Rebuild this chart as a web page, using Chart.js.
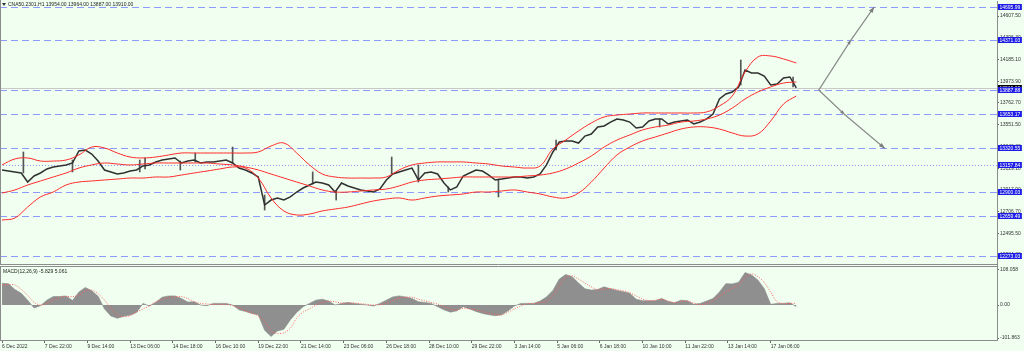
<!DOCTYPE html>
<html>
<head>
<meta charset="utf-8">
<script src="https://cdn.jsdelivr.net/npm/chart.js@4.4.1/dist/chart.umd.min.js"></script>
<style>
  html, body { margin: 0; padding: 0; background: #f0fff0; }
  #wrap { position: relative; width: 1024px; height: 351px; overflow: hidden; background: #f0fff0; }
  #mainChart { position: absolute; left: 0; top: 0; }
  #macdChart { position: absolute; left: 0; top: 266px; }
</style>
</head>
<body>
<div id="wrap">
  <canvas id="mainChart" width="1024" height="266"></canvas>
  <canvas id="macdChart" width="1024" height="85"></canvas>
</div>
<script>
// hourly bars, x = bar number counted from 6 Dec 2022 00:00
const barStep = 6;   // closes and MACD are read every 6 bars
const bandStep = 12; // bollinger bands are read every 12 bars

const closes = [
  13111, 13101, 13092, 13082, 12994, 13053, 13082, 13121, 13140, 13150,
  13160, 13179, 13296, 13305, 13266, 13198, 13111, 13092, 13072, 13082,
  13101, 13111, 13150, 13160, 13189, 13208, 13218, 13228, 13179, 13198,
  13208, 13179, 13189, 13189, 13198, 13208, 13179, 13130, 13111, 13082,
  13043, 12771, 12819, 12839, 12819, 12849, 12897, 12936, 12965, 12994,
  12985, 12965, 12897, 12985, 12956, 12936, 12917, 12907, 12897, 12926,
  13014, 13072, 13092, 13111, 13130, 13014, 13082, 13092, 13072, 12985,
  12917, 12946, 13053, 13082, 13111, 13101, 13062, 13014, 13023, 13033,
  13043, 13043, 13033, 13043, 13072, 13160, 13286, 13383, 13393, 13393,
  13373, 13441, 13461, 13529, 13539, 13577, 13607, 13597, 13577, 13519,
  13529, 13587, 13607, 13607, 13558, 13577, 13587, 13597, 13558, 13577,
  13607, 13655, 13801, 13850, 13869, 13918, 14083, 14054, 14054, 14024,
  13937, 13947, 14005, 14015, 13910
];

// long candle wicks
const wickBars  = [20, 66, 129, 134, 167, 181, 216, 246, 291, 313, 365, 390, 418, 465, 519, 616, 692, 741];
const wickHighs = [13286, 13208, 13208, 13228, 13198, 13276, 13334, 12868, 13092, 12907, 13237, 13160, 12946, 13023, 13402, 13607, 14180, 14015];
const wickLows  = [13082, 13092, 13092, 13121, 13111, 13189, 13179, 12722, 12975, 12819, 13072, 12994, 12897, 12849, 13305, 13529, 13937, 13918];

const upperBand = [
  13160, 13218, 13228, 13198, 13198, 13208, 13257, 13334, 13325, 13276,
  13237, 13228, 13237, 13257, 13276, 13276, 13276, 13276, 13276, 13276,
  13286, 13344, 13373, 13276, 13160, 13072, 13043, 13033, 13033, 13033,
  13043, 13111, 13160, 13179, 13189, 13189, 13189, 13179, 13169, 13150,
  13140, 13130, 13150, 13315, 13402, 13490, 13568, 13626, 13645, 13655,
  13665, 13665, 13665, 13665, 13665, 13675, 13733, 13830, 14063, 14209,
  14219, 14190, 14151
];
const middleBand = [
  12887, 12917, 12965, 13004, 13043, 13082, 13130, 13160, 13179, 13169,
  13160, 13169, 13179, 13179, 13179, 13179, 13179, 13169, 13160, 13140,
  13111, 13072, 13033, 12994, 12956, 12917, 12897, 12897, 12907, 12917,
  12926, 12956, 12994, 13014, 13023, 13033, 13043, 13043, 13043, 13043,
  13043, 13053, 13062, 13082, 13121, 13179, 13247, 13334, 13402, 13451,
  13500, 13529, 13548, 13577, 13587, 13607, 13645, 13713, 13801, 13869,
  13918, 13956, 13966
];
const lowerBand = [
  12625, 12644, 12751, 12849, 12897, 12965, 12994, 13004, 13014, 13023,
  13033, 13033, 13043, 13043, 13062, 13082, 13101, 13121, 13140, 13130,
  13033, 12839, 12713, 12674, 12683, 12713, 12732, 12751, 12781, 12810,
  12829, 12839, 12819, 12839, 12858, 12868, 12878, 12897, 12897, 12907,
  12917, 12897, 12878, 12849, 12839, 12887, 12994, 13130, 13257, 13334,
  13393, 13432, 13471, 13509, 13529, 13529, 13509, 13471, 13441, 13461,
  13587, 13752, 13830
];

const macdHist = [
  67, 66, 48, 36, 15, -9, -2, 15, 26, 26,
  28, 14, 40, 54, 44, 27, -12, -34, -41, -35,
  -31, -23, 5, -3, 8, 24, 28, 28, 20, 9,
  10, 0, -2, 5, 5, 5, 0, -15, -20, -26,
  -30, -78, -97, -80, -75, -46, -23, -5, 5, 15,
  18, 12, 0, 5, 8, 5, 2, 0, -3, 5,
  15, 25, 28, 25, 20, 10, 8, 5, -5, -15,
  -22, -18, -5, -12, -20, -26, -30, -33, -30, -18,
  -3, 5, 5, 5, 12, 25, 45, 80, 94, 87,
  68, 50, 46, 48, 56, 50, 45, 41, 36, 18,
  13, 13, 13, 20, 11, 7, 15, 13, 2, 5,
  12, 20, 40, 66, 65, 70, 100, 93, 77, 50,
  2, 5, 5, 7, -5
];
const macdSignal = [
  62, 63, 62, 48, 30, 8, 0, 5, 15, 23,
  26, 26, 30, 44, 46, 35, 15, -10, -30, -36,
  -33, -22, -12, -3, 10, 17, 23, 25, 26, 20,
  10, 5, 3, 2, 2, 2, -2, -9, -18, -25,
  -34, -50, -80, -88, -86, -72, -40, -22, -12, 0,
  8, 12, 10, 6, 6, 6, 4, 2, 0, 1,
  6, 14, 21, 24, 24, 18, 13, 8, 3, -5,
  -12, -16, -10, -12, -15, -20, -25, -29, -31, -22,
  -12, -3, 4, 5, 8, 11, 30, 60, 85, 90,
  80, 68, 56, 47, 49, 51, 47, 44, 38, 28,
  18, 13, 15, 18, 12, 7, 11, 12, 6, 1,
  5, 14, 28, 40, 52, 62, 85, 96, 88, 70,
  40, 10, 4, 5, 5
];

const levelPrices = [14695.99, 14371.03, 13887.88, 13653.17, 13320.55, 13157.84, 12900.03, 12659.49, 12273.03];
const dottedLevels = [13157.84];
const bidPrice = 13910.00;

const arrowUpBars = [765, 795, 817];
const arrowUpPrices = [13887.88, 14371.03, 14695.99];
const arrowDownBars = [765, 789, 827];
const arrowDownPrices = [13887.88, 13653.17, 13320.55];

const yTickValues = [14607.5, 14396.3, 14185.1, 13973.9, 13762.7, 13551.5, 13340.3, 13129.1, 12917.9, 12706.7, 12495.5, 12284.3];
const macdTickValues = [108.058, 0, -101.863];
const macdTickLabels = ["108.058", "0.00", "-101.863"];

const xTickBars = [0, 40, 80, 120, 160, 200, 240, 280, 320, 360, 400, 440, 480, 520, 560, 600, 640, 680, 720];
const xTickLabels = [
  "6 Dec 2022", "7 Dec 22:00", "9 Dec 14:00", "13 Dec 06:00", "14 Dec 18:00",
  "16 Dec 10:00", "19 Dec 22:00", "21 Dec 14:00", "23 Dec 06:00", "26 Dec 18:00",
  "28 Dec 10:00", "29 Dec 22:00", "3 Jan 14:00", "5 Jan 06:00", "6 Jan 18:00",
  "10 Jan 10:00", "11 Jan 22:00", "13 Jan 14:00", "17 Jan 06:00"
];

const titleText = "CNA50.2301,H1 13954.00 13964.00 13887.00 13910.00";
const macdText = "MACD(12,26,9) -5.829 5.061";

// axis ranges
const xMin = -1.9;
const xMax = 932;
const priceMin = 12187.7;
const priceMax = 14753.3;
const macdMin = -108;
const macdMax = 120.4;

const fontFamily = '"Liberation Sans", Arial, sans-serif';
const frameColor = "#8c8c8c";
const bandColor = "#ff2a2a";
const levelColor = "#8d9bff";
const barColor = "#303030";

function toPoints(values, step) {
  return values.map((v, i) => ({ x: i * step, y: v }));
}

function pairPoints(xs, ys) {
  return xs.map((x, i) => ({ x: x, y: ys[i] }));
}

function drawArrowHead(ctx, from, to, len, half) {
  const ang = Math.atan2(to.y - from.y, to.x - from.x);
  ctx.beginPath();
  ctx.moveTo(to.x, to.y);
  ctx.lineTo(to.x - len * Math.cos(ang) + half * Math.sin(ang), to.y - len * Math.sin(ang) - half * Math.cos(ang));
  ctx.lineTo(to.x - len * Math.cos(ang) - half * Math.sin(ang), to.y - len * Math.sin(ang) + half * Math.cos(ang));
  ctx.closePath();
  ctx.fill();
}

const mainDecor = {
  id: "mainDecor",
  beforeDatasetsDraw(chart) {
    const { ctx, chartArea, scales } = chart;
    const y = scales.y;
    ctx.save();
    ctx.beginPath();
    ctx.rect(chartArea.left, chartArea.top, chartArea.right - chartArea.left, chartArea.bottom - chartArea.top);
    ctx.clip();

    // bid line
    const by = Math.round(y.getPixelForValue(bidPrice)) + 0.5;
    ctx.strokeStyle = "#c9c9c9";
    ctx.lineWidth = 1;
    ctx.beginPath();
    ctx.moveTo(chartArea.left, by);
    ctx.lineTo(chartArea.right, by);
    ctx.stroke();

    levelPrices.forEach((p) => {
      const py = Math.round(y.getPixelForValue(p)) + 0.5;
      ctx.strokeStyle = levelColor;
      ctx.lineWidth = 1.2;
      ctx.setLineDash(dottedLevels.includes(p) ? [1, 2] : [7, 4]);
      ctx.beginPath();
      ctx.moveTo(chartArea.left, py);
      ctx.lineTo(chartArea.right, py);
      ctx.stroke();
    });
    ctx.restore();
  },
  afterDraw(chart) {
    const { ctx, chartArea, scales } = chart;
    const y = scales.y;
    ctx.save();

    // arrow heads on the two projection lines
    ctx.fillStyle = "#7d7d7d";
    chart.data.datasets.forEach((ds, di) => {
      if (!ds.arrow) return;
      const pts = chart.getDatasetMeta(di).data;
      for (let i = 1; i < pts.length; i++) {
        const big = i === pts.length - 1;
        drawArrowHead(ctx, pts[i - 1], pts[i], big ? 6 : 4, big ? 2.2 : 1.8);
      }
    });

    // frame
    ctx.strokeStyle = frameColor;
    ctx.lineWidth = 1;
    ctx.beginPath();
    ctx.moveTo(0.5, 0);
    ctx.lineTo(0.5, chartArea.bottom);
    ctx.moveTo(0, chartArea.bottom - 0.5);
    ctx.lineTo(chartArea.right, chartArea.bottom - 0.5);
    ctx.stroke();

    // price boxes on the right axis
    ctx.font = "5px " + fontFamily;
    ctx.textBaseline = "middle";
    ctx.textAlign = "left";
    const boxes = [{ p: bidPrice, c: "#000000" }].concat(levelPrices.map((p) => ({ p: p, c: "#1c1ce6" })));
    boxes.forEach((b) => {
      const py = Math.round(y.getPixelForValue(b.p));
      const txt = b.p.toFixed(2);
      const w = ctx.measureText(txt).width + 3;
      ctx.fillStyle = b.c;
      ctx.fillRect(chartArea.right + 1, py - 3, w, 6);
      ctx.fillStyle = "#ffffff";
      ctx.fillText(txt, chartArea.right + 2.5, py + 0.3);
    });

    // title
    ctx.fillStyle = "#333333";
    ctx.beginPath();
    ctx.moveTo(2, 3);
    ctx.lineTo(6, 3);
    ctx.lineTo(4, 6);
    ctx.closePath();
    ctx.fill();
    ctx.fillStyle = "#222222";
    ctx.fillText(titleText, 8, 5);
    ctx.restore();
  }
};

const macdDecor = {
  id: "macdDecor",
  afterDraw(chart) {
    const { ctx, chartArea } = chart;
    ctx.save();
    ctx.strokeStyle = frameColor;
    ctx.lineWidth = 1;
    ctx.beginPath();
    ctx.moveTo(0, chartArea.top + 0.5);
    ctx.lineTo(chartArea.right, chartArea.top + 0.5);
    ctx.moveTo(0.5, chartArea.top);
    ctx.lineTo(0.5, chartArea.bottom);
    ctx.stroke();
    ctx.font = "5px " + fontFamily;
    ctx.textBaseline = "middle";
    ctx.fillStyle = "#222222";
    ctx.fillText(macdText, 3, chartArea.top + 5.5);
    ctx.restore();
  }
};

function rightAxis(min, max, values, labels) {
  return {
    position: "right",
    min: min,
    max: max,
    afterBuildTicks: (scale) => {
      scale.ticks = values.map((v) => ({ value: v }));
    },
    afterFit: (scale) => {
      scale.width = 27;
      scale.paddingTop = 0;
      scale.paddingBottom = 0;
    },
    ticks: {
      font: { size: 5, family: fontFamily },
      color: "#333333",
      padding: 1,
      callback: (value, index) => labels ? labels[index] : Number(value).toFixed(2)
    },
    grid: { drawOnChartArea: false, tickLength: 2, color: "#666666" },
    border: { color: frameColor }
  };
}

const commonOptions = {
  responsive: false,
  animation: false,
  devicePixelRatio: 1,
  elements: { point: { radius: 0 } },
  plugins: { legend: { display: false }, tooltip: { enabled: false } }
};

new Chart(document.getElementById("mainChart"), {
  type: "line",
  data: {
    datasets: [
      { data: pairPoints(arrowUpBars, arrowUpPrices), borderColor: "#8a8a8a", borderWidth: 1.2, order: 0, arrow: true },
      { data: pairPoints(arrowDownBars, arrowDownPrices), borderColor: "#8a8a8a", borderWidth: 1.2, order: 0, arrow: true },
      { data: toPoints(upperBand, bandStep), borderColor: bandColor, borderWidth: 1, tension: 0.4, order: 1 },
      { data: toPoints(middleBand, bandStep), borderColor: bandColor, borderWidth: 1, tension: 0.4, order: 1 },
      { data: toPoints(lowerBand, bandStep), borderColor: bandColor, borderWidth: 1, tension: 0.4, order: 1 },
      { data: toPoints(closes, barStep), borderColor: barColor, borderWidth: 1.5, tension: 0, order: 2 },
      {
        type: "bar",
        data: wickBars.map((b, i) => ({ x: b, y: [wickLows[i], wickHighs[i]] })),
        backgroundColor: "#555555",
        barThickness: 1,
        order: 3
      }
    ]
  },
  options: Object.assign({}, commonOptions, {
    layout: { padding: { top: 1, bottom: 1, left: 0, right: 0 } },
    scales: {
      x: { type: "linear", min: xMin, max: xMax, display: false, offset: false },
      y: rightAxis(priceMin, priceMax, yTickValues, null)
    }
  }),
  plugins: [mainDecor]
});

new Chart(document.getElementById("macdChart"), {
  type: "line",
  data: {
    datasets: [
      { data: toPoints(macdSignal, barStep), borderColor: "#ff6060", borderWidth: 1, borderDash: [1, 1.5], tension: 0.3, order: 0 },
      { data: toPoints(macdHist, barStep), borderColor: "#8a8a8a", borderWidth: 0.6, backgroundColor: "#8f8f8f", fill: "origin", tension: 0, order: 1 }
    ]
  },
  options: Object.assign({}, commonOptions, {
    layout: { padding: { top: 0, bottom: 0, left: 0, right: 0 } },
    scales: {
      x: {
        type: "linear",
        min: xMin,
        max: xMax,
        offset: false,
        afterBuildTicks: (scale) => {
          scale.ticks = xTickBars.map((b) => ({ value: b }));
        },
        afterFit: (scale) => {
          scale.height = 11;
          scale.paddingLeft = 0;
          scale.paddingRight = 0;
        },
        ticks: {
          font: { size: 5, family: fontFamily },
          color: "#333333",
          align: "start",
          maxRotation: 0,
          autoSkip: false,
          padding: 1,
          callback: (value, index) => xTickLabels[index]
        },
        grid: { drawOnChartArea: false, tickLength: 3, color: "#666666" },
        border: { color: frameColor }
      },
      y: rightAxis(macdMin, macdMax, macdTickValues, macdTickLabels)
    }
  }),
  plugins: [macdDecor]
});
</script>
</body>
</html>
